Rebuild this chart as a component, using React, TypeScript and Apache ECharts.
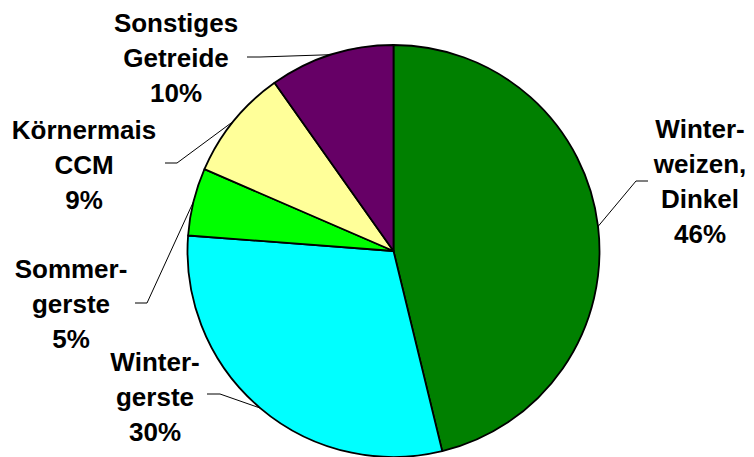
import React, { useEffect, useRef } from 'react';
import * as echarts from 'echarts';

const categories = [
  'Winter-\nweizen,\nDinkel',
  'Winter-\ngerste',
  'Sommer-\ngerste',
  'Körnermais\nCCM',
  'Sonstiges\nGetreide',
];
const shares = [46.2, 30.0, 5.3, 8.7, 9.8];
const colors = ['#008000', '#00FFFF', '#00FF00', '#FFFF99', '#660066'];

// label placement in px: label centre, leader elbow x, leader end x, leader y
const labelPlacement = [
  { x: 700, y: 181, elbowX: 636, endX: 648, lineY: 181 },
  { x: 155, y: 397, elbowX: 220, endX: 207, lineY: 394 },
  { x: 71, y: 304, elbowX: 147, endX: 135, lineY: 303 },
  { x: 84, y: 165, elbowX: 177, endX: 165, lineY: 163 },
  { x: 176, y: 58, elbowX: 260, endX: 247, lineY: 57 },
];

export default function App() {
  const ref = useRef<HTMLDivElement>(null);
  useEffect(() => {
    document.body.style.margin = '0';
    const chart = echarts.init(ref.current!, null, { renderer: 'svg' });
    chart.setOption({
      animation: false,
      backgroundColor: '#ffffff',
      series: [
        {
          type: 'pie',
          center: [393.5, 251],
          radius: 206,
          startAngle: 90,
          clockwise: true,
          avoidLabelOverlap: false,
          data: categories.map((name, i) => ({
            name,
            value: shares[i],
            itemStyle: { color: colors[i] },
          })),
          itemStyle: { borderColor: '#000000', borderWidth: 1.8 },
          emphasis: { disabled: true },
          label: {
            show: true,
            position: 'outside',
            formatter: (p: any) => `${p.name}\n${Math.round(p.percent)}%`,
            fontFamily: '"Liberation Sans", Arial, sans-serif',
            fontWeight: 'bold',
            fontSize: 26,
            lineHeight: 35,
            color: '#000000',
            align: 'center',
          },
          labelLine: {
            show: true,
            length: 20,
            length2: 10,
            lineStyle: { color: '#000000', width: 1 },
          },
          labelLayout: (params: any) => {
            const p = labelPlacement[params.dataIndex];
            const start = params.labelLinePoints && params.labelLinePoints[0];
            const res: any = {
              x: p.x,
              y: p.y,
              align: 'center',
              verticalAlign: 'middle',
            };
            if (start) {
              res.labelLinePoints = [
                [start[0], start[1]],
                [p.elbowX, p.lineY],
                [p.endX, p.lineY],
              ];
            }
            return res;
          },
        },
      ],
    });
    return () => chart.dispose();
  }, []);
  return <div ref={ref} style={{ width: 754, height: 457 }} />;
}
